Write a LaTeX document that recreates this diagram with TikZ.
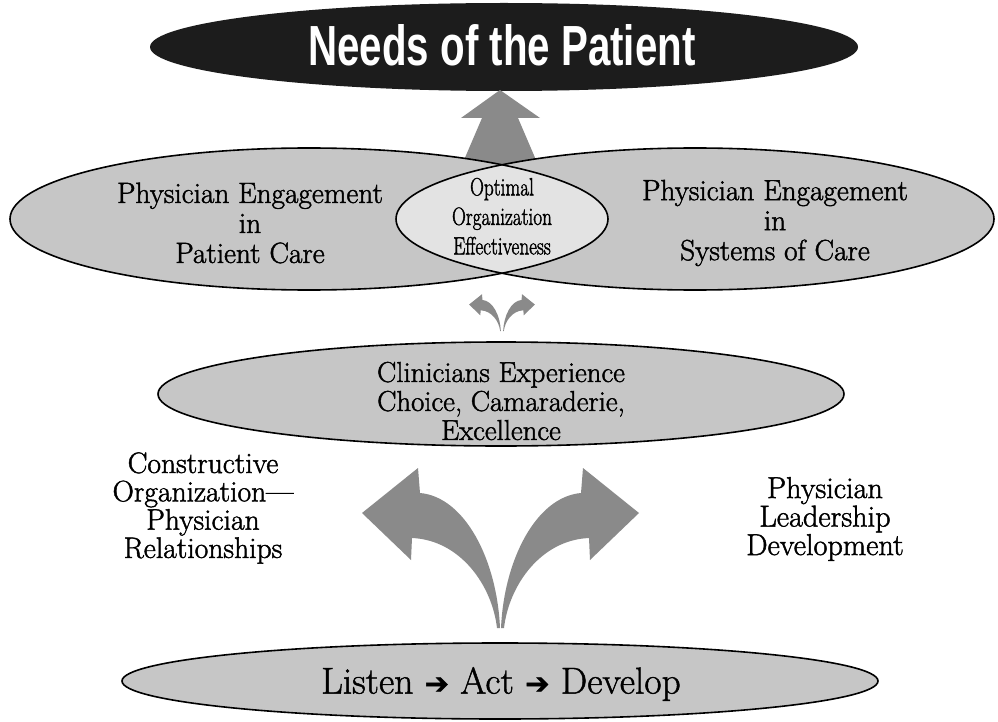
\documentclass[tikz,border=0pt]{standalone}
\usepackage{fontspec}
\newfontfamily\titlefont{Liberation Sans}
\newfontfamily\symfont{DejaVu Sans}
\usetikzlibrary{shapes.geometric}
\definecolor{ellgray}{HTML}{C6C6C6}
\definecolor{lensgray}{HTML}{E3E3E3}
\definecolor{arrgray}{HTML}{8A8A8A}
\definecolor{topblack}{HTML}{1C1C1C}
\newcommand\heavytext{\special{pdf:literal direct 2 Tr 0.45 w}}
\begin{document}
\begin{tikzpicture}[x=1pt,y=-1pt,
  ellnode/.style={ellipse,inner sep=0pt,fill=ellgray},
  ellline/.style={draw=black,line width=1.6pt},
  txt/.style={align=center,inner sep=0pt,text=black},
  arrfill/.style={fill=arrgray},
  curvarr/.pic={
    \path[arrfill] (-1.5,0) .. controls (-6.5,-43) and (-38.5,-88) .. (-86.5,-90)
      -- (-87.5,-68) -- (-136.5,-115) -- (-80.5,-160) -- (-78.5,-135)
      .. controls (-33.5,-131) and (-1.5,-68) .. (1.5,0) -- cycle;
  }]
\useasboundingbox (0,0) rectangle (998,722);
\fill[white] (0,0) rectangle (998,722);

% top ellipse
\node[ellipse,inner sep=0pt,fill=topblack,minimum width=708pt,minimum height=88pt] (needs) at (504,47) {};
\node[txt,text=white] (needst) at (502,45) {\resizebox{387pt}{41pt}{\titlefont\bfseries Needs of the Patient}};

% up arrow (behind the two big ellipses)
\path[arrfill] (500,90) -- (540,118) -- (518,118) -- (542,174) -- (458,174) -- (482,118) -- (461,118) -- cycle;

% two big ellipses
\node[ellnode,minimum width=598pt,minimum height=142pt] (pcL) at (309,219) {};
\node[ellnode,minimum width=598pt,minimum height=142pt] (pcR) at (695,219) {};
\begin{scope}
  \clip (pcL.center) ellipse [x radius=299, y radius=71];
  \fill[lensgray] (pcR.center) ellipse [x radius=299, y radius=71];
\end{scope}
\draw[ellline] (pcL.center) ellipse [x radius=299, y radius=71];
\draw[ellline] (pcR.center) ellipse [x radius=299, y radius=71];

\node[txt,font=\fontsize{29.3}{30}\selectfont\heavytext] (pcLt) at (250,223) {Physician Engagement\\in\\Patient Care};
\node[txt,font=\fontsize{29.3}{30}\selectfont\heavytext] (pcRt) at (775,223) {Physician Engagement\\in\\Systems of Care};
\node[txt,font=\heavytext] (lens) at (502,219) {\scalebox{0.77}[1]{\fontsize{25}{29.5}\selectfont\begin{tabular}{@{}c@{}}Optimal\\Organization\\Effectiveness\end{tabular}}};

% small arrows
\pic[shift={(500.5,331)},scale=0.23] {curvarr};
\pic[shift={(503.5,331)},xscale=-0.23,yscale=0.23] {curvarr};

% middle ellipse
\node[ellnode,draw=black,line width=1.6pt,minimum width=686pt,minimum height=104pt] (clin) at (501,394) {};
\node[txt,font=\fontsize{28.8}{29}\selectfont\heavytext] (clint) at (501,401) {Clinicians Experience\\Choice, Camaraderie,\\Excellence};

% side labels
\node[txt,font=\fontsize{29.6}{28.3}\selectfont\heavytext] (cons) at (203,508) {Constructive\\Organization—\\Physician\\Relationships};
\node[txt,font=\fontsize{30.2}{28.5}\selectfont\heavytext] (lead) at (825,519) {Physician\\Leadership\\Development};

% big arrows
\pic[shift={(498.5,628)}] {curvarr};
\pic[shift={(502.5,628)},xscale=-1] {curvarr};

% bottom ellipse
\node[ellnode,draw=black,line width=1.6pt,minimum width=756pt,minimum height=76pt] (lad) at (500,681) {};
\node[txt,font=\fontsize{37.5}{40}\selectfont\heavytext] (ladt) at (501,684) {Listen {\symfont\fontsize{29}{29}\selectfont ➔} Act {\symfont\fontsize{29}{29}\selectfont ➔} Develop};
\end{tikzpicture}
\end{document}
